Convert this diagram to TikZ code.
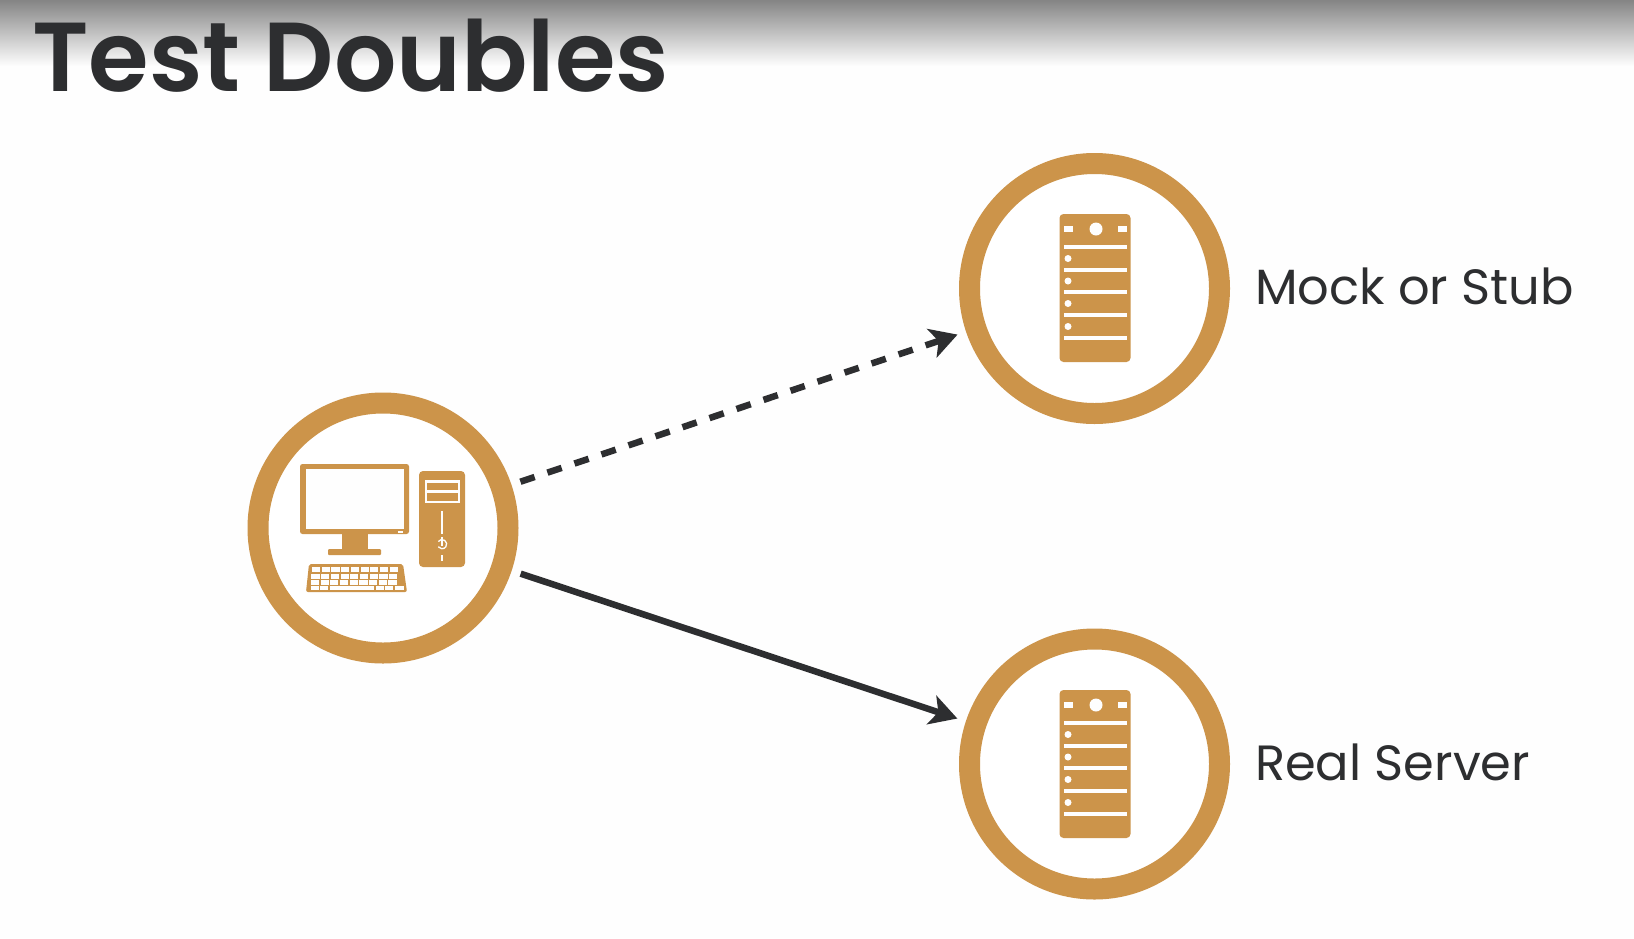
\documentclass[tikz,border=0pt]{standalone}
\usepackage{fontspec}
\setmainfont{Poppins}
\newfontfamily\titlefont{Poppins SemiBold}
\definecolor{ochre}{HTML}{CC944A}
\definecolor{ink}{HTML}{2D2E30}
\definecolor{paper}{HTML}{FEFEFE}
\usetikzlibrary{arrows.meta}
\tikzset{
  ring/.style={circle,draw=ochre,line width=21pt,fill=white,minimum size=250pt,inner sep=0pt,outer sep=0pt},
  label text/.style={anchor=base west,inner sep=0pt,text=ink,font=\fontsize{49.5}{60}\selectfont},
  link/.style={draw=ink,line width=6.5pt,shorten <=145pt,shorten >=144.5pt,-{Stealth[length=27pt,width=30pt,inset=7pt]}},
  dashlink/.style={link,dash pattern=on 15pt off 13.5pt},
  orange fill/.style={fill=ochre,draw=none},
  white fill/.style={fill=paper,draw=none}
}
\newcommand{\serverglyph}[2]{%
  \begin{scope}[shift={(#1,#2)}]
    \fill[orange fill,rounded corners=4pt] (-34.5,-74) rectangle (36.5,74);
    \fill[white fill] (-30,-62) rectangle (-21,-56);
    \fill[white fill] (24,-62) rectangle (33,-56);
    \fill[white fill] (2,-59) circle (6.5);
    \foreach \ly in {-41,-18.3,4.4,27,50}{\fill[white fill] (-30,\ly-2) rectangle (33,\ly+2);}
    \foreach \dy in {-29.5,-7,15.5,38.5}{\fill[white fill] (-26,\dy) circle (3.5);}
  \end{scope}}
\begin{document}
\begin{tikzpicture}[x=1pt,y=-1pt]
\useasboundingbox (0,0) rectangle (1634,938);
\fill[paper] (0,0) rectangle (1634,938);
\shade[top color=black!48,bottom color=paper] (0,0) rectangle (1634,66);
\node[anchor=base west,inner sep=0pt,text=ink,font=\titlefont\fontsize{98}{110}\selectfont] (title) at (32,91.5) {Test Doubles};
\node[ring] (client) at (383,528) {};
\node[ring] (mock) at (1094.5,288.5) {};
\node[ring] (real) at (1094.5,764) {};
\serverglyph{1094}{288}
\serverglyph{1094}{764}
% computer
\fill[orange fill,rounded corners=2.5pt] (300,464) rectangle (409,534);
\fill[white fill] (306,469) rectangle (404,529);
\fill[orange fill] (342,534) rectangle (368,549);
\fill[orange fill,rounded corners=1pt] (328,549) rectangle (381,555);
\fill[white fill] (398,531) rectangle (403,533);
\fill[orange fill,rounded corners=4pt] (419,471) rectangle (465,567);
\fill[white fill] (425,480) rectangle (460,503);
\fill[orange fill] (427,483) rectangle (458,490);
\fill[orange fill] (427,493) rectangle (458,500.5);
\fill[white fill] (441,511) rectangle (443,534);
\draw[paper,line width=1.3pt] (438.3,541.5) arc[start angle=215,end angle=505,radius=4.6];
\fill[white fill] (441,537) rectangle (443,546);
\fill[white fill] (441,555) rectangle (443,561);
\fill[orange fill,rounded corners=2pt] (309,564) -- (403,564) -- (407,592) -- (306,592) -- cycle;
\foreach \r/\yy in {0/567,1/573.5,2/580}{
  \foreach \c in {0,...,8}{\fill[white fill] (312+\c*9.7-\r*0.6,\yy) rectangle ++(8.2,5.2);}
}
\foreach \kx/\kw in {310.5/8,320/8,329.5/44.5,375.5/8,385/8,394.5/9}{\fill[white fill] (\kx,586) rectangle ++(\kw,3.5);}
\node[label text] (mocklabel) at (1255,304.5) {Mock or Stub};
\node[label text] (reallabel) at (1255,780.5) {Real Server};
\path[dashlink] (client.center) -- (mock.center);
\path[link] (client.center) -- (real.center);
\end{tikzpicture}
\end{document}
